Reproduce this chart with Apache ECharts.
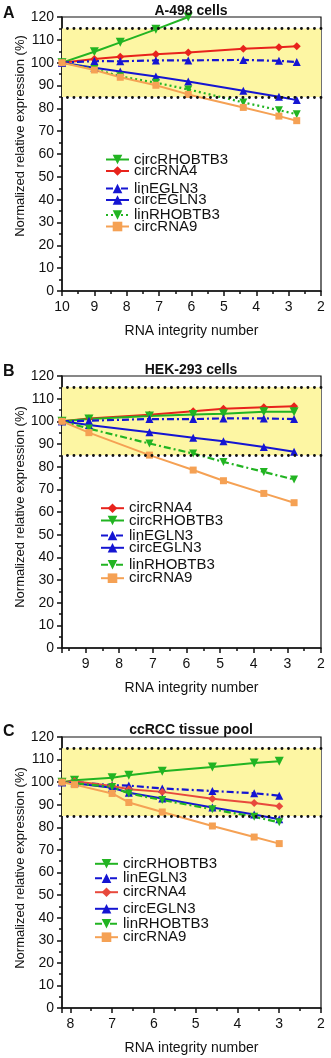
<!DOCTYPE html>
<html>
<head>
<meta charset="utf-8">
<script src="https://cdn.jsdelivr.net/npm/echarts@6/dist/echarts.min.js"></script>
<style>
  html, body { margin: 0; padding: 0; background: #fff; }
  #chart { width: 331px; height: 1058px; }
</style>
</head>
<body>
<div id="chart"></div>
<script>
// RIN values per panel
const rinA = [10, 9.0, 8.2, 7.1, 6.1, 4.4, 3.3, 2.75];
const rinB = [9.7, 8.9, 7.1, 5.8, 4.9, 3.7, 2.8];
const rinC = [8.2, 7.9, 7.0, 6.6, 5.8, 4.6, 3.6, 3.0];

// Panel A: A-498 cells
const a_circRHOBTB3 = [100, 104.8, 108.9, 114.6, 120];
const a_circRNA4 = [100, 101.6, 102.6, 103.7, 104.5, 106.1, 106.7, 107.2];
const a_linEGLN3 = [100, 100.7, 100.6, 101.0, 101.0, 101.2, 100.8, 100.3];
const a_circEGLN3 = [100, 97.8, 96.1, 93.9, 91.8, 87.7, 85.1, 83.6];
const a_linRHOBTB3 = [100, 97.2, 94.0, 91.2, 88.3, 82.6, 79.2, 77.4];
const a_circRNA9 = [100, 96.8, 93.6, 90.1, 86.1, 80.4, 76.6, 74.6];

// Panel B: HEK-293 cells
const b_circRNA4 = [100, 101.2, 102.9, 104.5, 105.5, 106.2, 106.6];
const b_circRHOBTB3 = [100, 101.0, 102.4, 103.0, 103.3, 104.2, 104.2];
const b_linEGLN3 = [100, 100.3, 101.0, 101.0, 101.3, 101.3, 101.0];
const b_circEGLN3 = [100, 98.4, 95.2, 92.8, 91.2, 88.7, 86.6];
const b_linRHOBTB3 = [100, 96.8, 90.2, 85.8, 82.1, 77.7, 74.3];
const b_circRNA9 = [100, 95.0, 85.1, 78.5, 73.8, 68.2, 64.1];

// Panel C: ccRCC tissue pool
const c_circRHOBTB3 = [100, 100.8, 102.0, 103.1, 104.8, 106.7, 108.5, 109.3];
const c_linEGLN3 = [100, 100.0, 98.6, 98.5, 97.2, 96.1, 95.1, 94.0];
const c_circRNA4 = [100, 100.4, 98.3, 96.9, 95.7, 92.7, 90.8, 89.3];
const c_circEGLN3 = [100, 99.5, 97.5, 95.3, 92.8, 88.8, 85.7, 83.6];
const c_linRHOBTB3 = [100, 99.5, 97.9, 95.0, 92.1, 88.0, 84.7, 82.2];
const c_circRNA9 = [100, 98.9, 95.0, 91.0, 86.8, 80.6, 75.7, 72.8];

const titles = ["A-498 cells", "HEK-293 cells", "ccRCC tissue pool"];
const letters = ["A", "B", "C"];
const yTicks = [0, 120];
const xRanges = [[2, 10], [2, 9.7], [2, 8.2]];

const legendOrder = [
    ["circRHOBTB3", "circRNA4", "linEGLN3", "circEGLN3", "linRHOBTB3", "circRNA9"],
    ["circRNA4", "circRHOBTB3", "linEGLN3", "circEGLN3", "linRHOBTB3", "circRNA9"],
    ["circRHOBTB3", "linEGLN3", "circRNA4", "circEGLN3", "linRHOBTB3", "circRNA9"]
];

document.addEventListener("DOMContentLoaded", function () {
    let chart = echarts.init(document.getElementById("chart"));

    const font = "Liberation Sans, Arial, sans-serif";
    const GREEN = "#22b422", RED = "#e8231c", BLUE = "#1515d2", ORANGE = "#f5a154", RED_C = "#e8493c";

    // layout per panel
    const grids = [
        { left: 62, right: 10, top: 17, height: 274 },
        { left: 62, right: 10, top: 376, height: 272 },
        { left: 62, right: 10, top: 737, height: 271 }
    ];
    const legendX = [100, 95, 89];
    const legendY = [
        [154, 165.5, 183, 194.5, 209.5, 221],
        [502.7, 515, 530, 542.3, 559.3, 572.7],
        [858.3, 872.7, 886.7, 903.3, 918.3, 931.7]
    ];
    const yNameY = [136, 507, 868];

    const styles = {
        circRHOBTB3: { color: GREEN, symbol: "triangle", rotate: 180, size: 9, type: "solid", width: 2 },
        circRNA4: { color: RED, symbol: "diamond", rotate: 0, size: 8, type: "solid", width: 2 },
        linEGLN3: { color: BLUE, symbol: "triangle", rotate: 0, size: 8, type: [7, 3, 2, 3], width: 2.2 },
        circEGLN3: { color: BLUE, symbol: "triangle", rotate: 0, size: 8, type: "solid", width: 2 },
        linRHOBTB3: { color: GREEN, symbol: "triangle", rotate: 180, size: 8, type: [7, 3, 2, 3], width: 2.2 },
        circRNA9: { color: ORANGE, symbol: "rect", rotate: 0, size: 7, type: "solid", width: 2 }
    };

    const panelData = [
        { rin: rinA, circRHOBTB3: a_circRHOBTB3, circRNA4: a_circRNA4, linEGLN3: a_linEGLN3, circEGLN3: a_circEGLN3, linRHOBTB3: a_linRHOBTB3, circRNA9: a_circRNA9 },
        { rin: rinB, circRHOBTB3: b_circRHOBTB3, circRNA4: b_circRNA4, linEGLN3: b_linEGLN3, circEGLN3: b_circEGLN3, linRHOBTB3: b_linRHOBTB3, circRNA9: b_circRNA9 },
        { rin: rinC, circRHOBTB3: c_circRHOBTB3, circRNA4: c_circRNA4, linEGLN3: c_linEGLN3, circEGLN3: c_circEGLN3, linRHOBTB3: c_linRHOBTB3, circRNA9: c_circRNA9 }
    ];

    let series = [];
    let legends = [];
    let xAxes = [];
    let yAxes = [];

    grids.forEach((g, p) => {
        xAxes.push({
            type: "value",
            gridIndex: p,
            min: xRanges[p][0],
            max: xRanges[p][1],
            interval: 1,
            inverse: true,
            name: "RNA integrity number",
            nameLocation: "middle",
            nameGap: 33,
            nameTextStyle: { fontFamily: font, fontSize: 14, color: "#111" },
            axisLine: { lineStyle: { color: "#111", width: 1.5 } },
            axisTick: { inside: false, length: 5, lineStyle: { color: "#111", width: 1.5 } },
            minorTick: { show: true, splitNumber: 2, length: 3, lineStyle: { color: "#111", width: 1.5 } },
            axisLabel: {
                fontFamily: font, fontSize: 14, color: "#111", margin: 9,
                formatter: v => (Number.isInteger(v) ? String(v) : "")
            },
            splitLine: { show: false }
        });
        yAxes.push({
            type: "value",
            gridIndex: p,
            min: yTicks[0],
            max: yTicks[1],
            interval: 10,
            axisLine: { show: true, lineStyle: { color: "#111", width: 1.5 } },
            axisTick: { show: true, length: 5, lineStyle: { color: "#111", width: 1.5 } },
            minorTick: { show: true, splitNumber: 2, length: 3, lineStyle: { color: "#111", width: 1.5 } },
            axisLabel: { fontFamily: font, fontSize: 14, color: "#111", margin: 8 },
            splitLine: { show: false }
        });

        const d = panelData[p];
        legendOrder[p].forEach((name, i) => {
            const s = styles[name];
            let color = s.color;
            if (p === 2 && name === "circRNA4") color = RED_C;
            let lineType = s.type;
            if (p === 0 && name === "linRHOBTB3") lineType = [2, 3];
            const vals = d[name];
            const item = {
                name: letters[p] + "|" + name,
                type: "line",
                xAxisIndex: p,
                yAxisIndex: p,
                data: vals.map((v, k) => [d.rin[k], v]),
                symbol: s.symbol,
                symbolRotate: s.rotate,
                symbolSize: s.size,
                showAllSymbol: true,
                color: color,
                itemStyle: { color: color },
                lineStyle: { color: color, width: s.width, type: lineType },
                z: 3,
                animation: false
            };
            if (i === 0) {
                item.markArea = {
                    silent: true,
                    itemStyle: { color: "#fdf6a3" },
                    data: [[{ yAxis: 85 }, { yAxis: 115 }]]
                };
                item.markLine = {
                    silent: true,
                    symbol: "none",
                    label: { show: false },
                    lineStyle: { color: "#111", width: 2.8, type: [0.1, 6.4], cap: "round" },
                    data: [{ yAxis: 115 }, { yAxis: 85 }]
                };
            }
            series.push(item);

            legends.push({
                data: [letters[p] + "|" + name],
                left: legendX[p],
                top: legendY[p][i] - 7,
                itemWidth: 23,
                itemHeight: 12,
                selectedMode: false,
                formatter: n => n.split("|")[1],
                textStyle: { fontFamily: font, fontSize: 15, color: "#111" }
            });
        });
    });

    const titleY = [11, 370, 730];
    const letterY = [14, 372, 732];
    let titleList = [];
    titles.forEach((t, p) => {
        titleList.push({
            text: t,
            left: 191,
            top: titleY[p],
            textAlign: "center",
            textVerticalAlign: "middle",
            padding: 0,
            textStyle: { fontFamily: font, fontSize: 14, fontWeight: "bold", color: "#111" }
        });
    });

    let graphicList = [];
    letters.forEach((l, p) => {
        graphicList.push({
            type: "text",
            x: 3,
            y: letterY[p],
            style: {
                text: l, font: "bold 16px " + font, fill: "#111",
                verticalAlign: "middle", align: "left"
            }
        });
        graphicList.push({
            type: "text",
            x: 20,
            y: yNameY[p],
            rotation: Math.PI / 2,
            style: {
                text: "Normalized relative expression (%)",
                font: "13px " + font, fill: "#111",
                align: "center", verticalAlign: "middle"
            }
        });
    });

    let option = {
        backgroundColor: "#fff",
        animation: false,
        title: titleList,
        grid: grids.map(g => Object.assign({ show: true, borderColor: "#111", borderWidth: 1.2, backgroundColor: "transparent" }, g)),
        xAxis: xAxes,
        yAxis: yAxes,
        legend: legends,
        graphic: graphicList,
        series: series
    };
    chart.setOption(option);
});
</script>
</body>
</html>
